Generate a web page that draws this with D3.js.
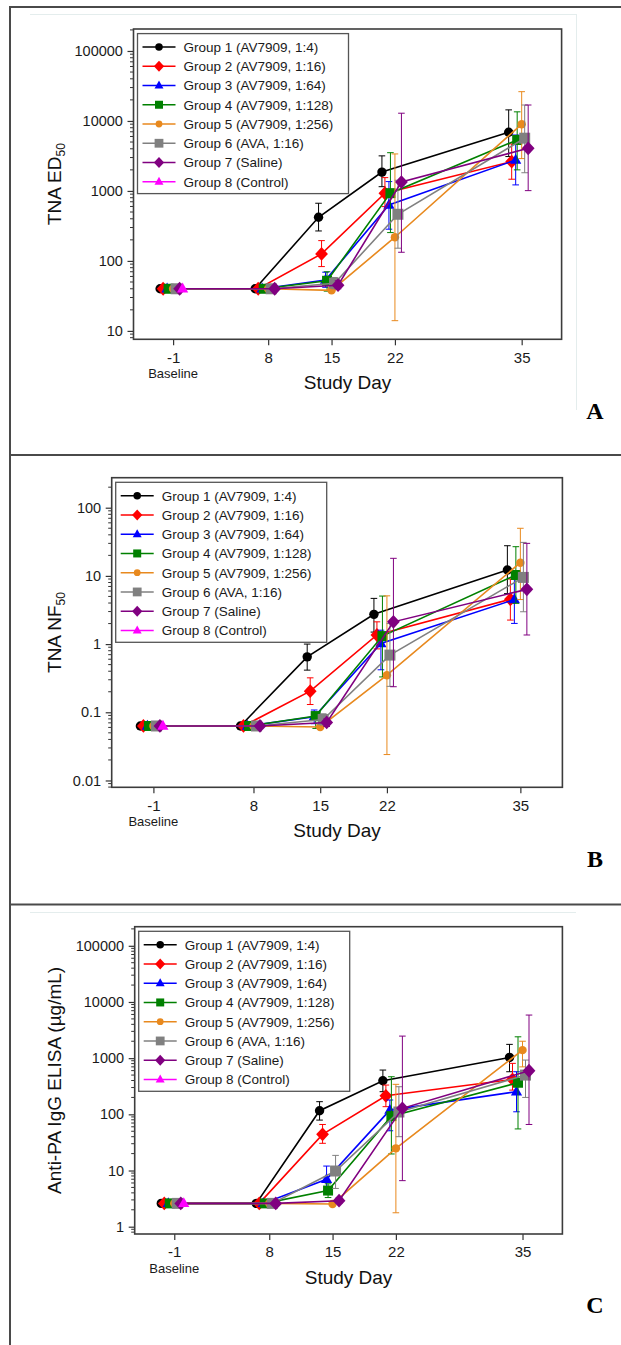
<!DOCTYPE html>
<html>
<head>
<meta charset="utf-8">
<script src="https://cdn.jsdelivr.net/npm/d3@7"></script>
<style>
  html, body { margin: 0; padding: 0; background: #fff; }
  svg { display: block; }
</style>
</head>
<body>
<svg id="chart" width="621" height="1345"></svg>
<script>
// ---------------- DATA ----------------
const days = [-1, 8, 15, 22, 35];
const groupNames = [
  "Group 1 (AV7909, 1:4)",
  "Group 2 (AV7909, 1:16)",
  "Group 3 (AV7909, 1:64)",
  "Group 4 (AV7909, 1:128)",
  "Group 5 (AV7909, 1:256)",
  "Group 6 (AVA, 1:16)",
  "Group 7 (Saline)",
  "Group 8 (Control)"
];

// Panel A: TNA ED50 (per group, per day)
const ed50 = [
  [40, 40, 421, 1860, 6900],
  [40, 40, 126, 927, 2630],
  [40, 40, 53.5, 631, 2770],
  [40, 40, 52, 930, 5350],
  [40, 40, 38, 218, 8980],
  [40, 40, 48, 464, 5670],
  [40, 40, 45, 1340, 4070],
  [40, null, null, null, null]
];
const ed50Lo = [
  [null, null, 268, 1150, 3100],
  [null, null, 83, 597, 1470],
  [null, null, 42, 284, 1220],
  [null, null, 37, 254, 2000],
  [null, null, 36, 14, 2900],
  [null, null, 40, 152, 1820],
  [null, null, 40, 133, 1010],
  [null, null, null, null, null]
];
const ed50Hi = [
  [null, null, 667, 3170, 14400],
  [null, null, 195, 1550, 4700],
  [null, null, 69, 1360, 6300],
  [null, null, 70, 3520, 13500],
  [null, null, 42, 3380, 26200],
  [null, null, 58, 1420, 16900],
  [null, null, 52, 12900, 16900],
  [null, null, null, null, null]
];

// Panel B: TNA NF50
const nf50 = [
  [0.063, 0.063, 0.65, 2.73, 12.2],
  [0.063, 0.063, 0.204, 1.36, 4.53],
  [0.063, 0.063, 0.0857, 1.02, 4.5],
  [0.063, 0.063, 0.088, 1.31, 10.3],
  [0.063, 0.063, 0.061, 0.35, 15.6],
  [0.063, 0.063, 0.0785, 0.69, 9.5],
  [0.063, 0.063, 0.071, 2.12, 6.35],
  [0.063, null, null, null, null]
];
const nf50Lo = [
  [null, null, 0.415, 1.5, 5.5],
  [null, null, 0.13, 0.85, 2.25],
  [null, null, 0.068, 0.42, 2.01],
  [null, null, 0.058, 0.33, 3.96],
  [null, null, 0.058, 0.024, 4.5],
  [null, null, 0.065, 0.24, 2.98],
  [null, null, 0.062, 0.237, 1.36],
  [null, null, null, null, null]
];
const nf50Hi = [
  [null, null, 1.0, 4.68, 27.7],
  [null, null, 0.32, 2.12, 9],
  [null, null, 0.108, 1.6, 10],
  [null, null, 0.1, 5.06, 26.8],
  [null, null, 0.065, 5.1, 49.9],
  [null, null, 0.095, 2.0, 31],
  [null, null, 0.08, 18.1, 30],
  [null, null, null, null, null]
];

// Panel C: Anti-PA IgG ELISA (ug/mL)
const elisa = [
  [2.6, 2.6, 116, 396, 1030],
  [2.6, 2.6, 44, 214, 419],
  [2.6, 2.6, 7.0, 119, 253],
  [2.6, 2.6, 4.4, 93, 365],
  [2.6, 2.6, 2.54, 24.8, 1390],
  [2.6, 2.6, 9.8, 110, 500],
  [2.6, 2.6, 2.9, 128, 597],
  [2.6, null, null, null, null]
];
const elisaLo = [
  [null, null, 79, 253, 573],
  [null, null, 30.5, 137, 270],
  [null, null, 4.5, 51, 111],
  [null, null, 3.3, 19.7, 55],
  [null, null, 2.4, 1.77, 700],
  [null, null, 4.8, 40, 200],
  [null, null, 2.6, 6.6, 66],
  [null, null, null, null, null]
];
const elisaHi = [
  [null, null, 168, 614, 1760],
  [null, null, 66, 332, 808],
  [null, null, 12, 180, 573],
  [null, null, 5.8, 467, 2400],
  [null, null, 2.7, 342, 2000],
  [null, null, 18.6, 310, 925],
  [null, null, 3.3, 2470, 5850],
  [null, null, null, null, null]
];

const ticksA = [10, 100, 1000, 10000, 100000];
const ticksB = [0.01, 0.1, 1, 10, 100];
const ticksC = [1, 10, 100, 1000, 10000, 100000];
const tickLabelsA = ["10", "100", "1000", "10000", "100000"];
const tickLabelsB = ["0.01", "0.1", "1", "10", "100"];
const tickLabelsC = ["1", "10", "100", "1000", "10000", "100000"];

// ---------------- STYLE ----------------
const colors = ["#000000", "#ff0000", "#0000ff", "#008000", "#e8891e", "#808080", "#800080", "#ff00ff"];
const shapes = ["circle", "diamond", "triangle", "square", "circle", "square", "diamond", "triangle"];
const jitter = [-13, -10, -6, -4.5, 0, 3, 6.5, 9.5];
const slots = [0, 1.5, 2.5, 3.5, 5.5];
const FONT = "'Liberation Sans', Arial, sans-serif";

const svg = d3.select("#chart");
svg.append("rect").attr("width", 621).attr("height", 1345).attr("fill", "#fff");

// outer frame
const frame = svg.append("g").attr("stroke", "#4a4a4a").attr("stroke-width", 2).attr("fill", "none");
frame.append("line").attr("x1", 10).attr("x2", 621).attr("y1", 7).attr("y2", 7);
frame.append("line").attr("x1", 10).attr("x2", 621).attr("y1", 455).attr("y2", 455);
frame.append("line").attr("x1", 10).attr("x2", 621).attr("y1", 904.5).attr("y2", 904.5);
frame.append("line").attr("x1", 10).attr("x2", 10).attr("y1", 6).attr("y2", 1345);
// faint image edges
const faint = svg.append("g").attr("stroke", "#e4eded").attr("stroke-width", 1).attr("fill", "none");
faint.append("line").attr("x1", 30).attr("x2", 576).attr("y1", 14.5).attr("y2", 14.5);
faint.append("line").attr("x1", 576.5).attr("x2", 576.5).attr("y1", 14).attr("y2", 410);
faint.append("line").attr("x1", 30).attr("x2", 576).attr("y1", 912.5).attr("y2", 912.5);

function markerPath(shape, k) {
  if (shape === "diamond") { const w = 6.4 * k, h = 6.9 * k; return `M0,${-h}L${w},0L0,${h}L${-w},0Z`; }
  if (shape === "triangle") { const s = 5.6 * k; return `M0,${-6.2 * k}L${s},${3.7 * k}L${-s},${3.7 * k}Z`; }
  if (shape === "square") { const s = 5 * k; return `M${-s},${-s}H${s}V${s}H${-s}Z`; }
  const r = 4.7 * k;
  return `M${r},0A${r},${r} 0 1,1 ${-r},0A${r},${r} 0 1,1 ${r},0Z`;
}
function sizeK(g) {
  if (g === 5) return 1.1;   // AVA square slightly larger
  if (g === 4) return 0.9;   // orange circle slightly smaller
  return 1;
}

const panels = [
  { box: [133.5, 29, 561.6, 339.3], logDom: [0.88, 5.314], vals: ed50, lo: ed50Lo, hi: ed50Hi,
    ticks: ticksA, labels: tickLabelsA, title: ["TNA ED", "50"], letter: "A", letterY: 419 },
  { box: [111.7, 477.7, 562.4, 787.3], logDom: [-2.10, 2.44], vals: nf50, lo: nf50Lo, hi: nf50Hi,
    ticks: ticksB, labels: tickLabelsB, title: ["TNA NF", "50"], letter: "B", letterY: 867 },
  { box: [134.7, 926.7, 562.4, 1234], logDom: [-0.13, 5.34], vals: elisa, lo: elisaLo, hi: elisaHi,
    ticks: ticksC, labels: tickLabelsC, title: ["Anti-PA IgG ELISA (\u00b5g/mL)", null], letter: "C", letterY: 1313 }
];

panels.forEach(p => {
  const [L, T, R, B] = p.box;
  const slotScale = d3.scaleLinear().domain([-0.625, 6.13]).range([L, R]);
  const x = d3.scaleLinear().domain(days).range(slots.map(slotScale));
  const y = d3.scaleLog().domain([Math.pow(10, p.logDom[0]), Math.pow(10, p.logDom[1])]).range([B, T]);
  const g = svg.append("g");

  // x axis
  const xa = g.append("g").attr("transform", `translate(0,${B})`)
    .call(d3.axisBottom(x).tickValues(days).tickSize(6).tickPadding(6.6).tickFormat(d => String(d)));
  xa.select(".domain").remove();
  xa.selectAll("line").attr("stroke", "#333").attr("stroke-width", 1.2);
  xa.selectAll("text").attr("font-family", FONT).attr("font-size", 15).attr("fill", "#1a1a1a");

  // y axis (major)
  const ya = g.append("g").attr("transform", `translate(${L},0)`)
    .call(d3.axisLeft(y).tickValues(p.ticks).tickSize(6).tickPadding(4.6)
      .tickFormat((d, i) => p.labels[i]));
  ya.select(".domain").remove();
  ya.selectAll("line").attr("stroke", "#333").attr("stroke-width", 1.2);
  ya.selectAll("text").attr("font-family", FONT).attr("font-size", 14.5).attr("fill", "#1a1a1a");

  // minor ticks
  const minors = [];
  for (let e = Math.floor(p.logDom[0]); e <= Math.ceil(p.logDom[1]); e++) {
    for (let m = 2; m <= 9; m++) {
      const v = m * Math.pow(10, e);
      const lv = Math.log10(v);
      if (lv > p.logDom[0] && lv < p.logDom[1]) minors.push(v);
    }
  }
  g.append("g").selectAll("line").data(minors).join("line")
    .attr("x1", L - 3.5).attr("x2", L).attr("y1", d => y(d)).attr("y2", d => y(d))
    .attr("stroke", "#333").attr("stroke-width", 1);

  // "Baseline" label
  g.append("text").attr("x", x(-1)).attr("y", B + 38.6).attr("text-anchor", "middle")
    .attr("font-family", FONT).attr("font-size", 13).attr("fill", "#1a1a1a").text("Baseline");
  // x title
  g.append("text").attr("x", (L + R) / 2).attr("y", B + 50).attr("text-anchor", "middle")
    .attr("font-family", FONT).attr("font-size", 19).attr("fill", "#111").text("Study Day");
  // y title
  const yt = g.append("text").attr("transform", `translate(60.5,${(T + B) / 2}) rotate(-90)`)
    .attr("text-anchor", "middle").attr("font-family", FONT).attr("font-size", 19).attr("fill", "#111");
  yt.append("tspan").text(p.title[0]);
  if (p.title[1]) yt.append("tspan").attr("font-size", 12).attr("dy", 4).text(p.title[1]);

  // panel letter
  svg.append("text").attr("x", 595).attr("y", p.letterY).attr("text-anchor", "middle")
    .attr("font-family", "'Liberation Serif', 'Times New Roman', serif").attr("font-weight", "bold")
    .attr("font-size", 24).attr("fill", "#000").text(p.letter);

  // series
  const plot = g.append("g");
  groupNames.forEach((name, gi) => {
    const pts = days.map((d, di) => ({ d, v: p.vals[gi][di], lo: p.lo[gi][di], hi: p.hi[gi][di] }))
      .filter(o => o.v != null);
    const gx = o => x(o.d) + jitter[gi];
    const sg = plot.append("g");
    // error bars
    const eb = sg.append("g").attr("stroke", colors[gi]).attr("stroke-width", 1).attr("fill", "none");
    pts.filter(o => o.lo != null && o.hi != null).forEach(o => {
      const cx = gx(o);
      eb.append("line").attr("x1", cx).attr("x2", cx).attr("y1", y(o.hi)).attr("y2", y(o.lo));
      eb.append("line").attr("x1", cx - 3.3).attr("x2", cx + 3.3).attr("y1", y(o.hi)).attr("y2", y(o.hi));
      eb.append("line").attr("x1", cx - 3.3).attr("x2", cx + 3.3).attr("y1", y(o.lo)).attr("y2", y(o.lo));
    });
    // line
    if (pts.length > 1) {
      sg.append("path").datum(pts)
        .attr("d", d3.line().x(gx).y(o => y(o.v)))
        .attr("fill", "none").attr("stroke", colors[gi]).attr("stroke-width", 1.6);
    }
    // markers
    sg.selectAll("path.mk").data(pts).join("path").attr("class", "mk")
      .attr("transform", o => `translate(${gx(o)},${y(o.v)})`)
      .attr("d", markerPath(shapes[gi], sizeK(gi)))
      .attr("fill", colors[gi]);
  });

  // plot box
  g.append("rect").attr("x", L).attr("y", T).attr("width", R - L).attr("height", B - T)
    .attr("fill", "none").attr("stroke", "#3c3c3c").attr("stroke-width", 1.6);

  // legend
  const lx = L + 4, ly = T + 4.6, lw = 211, lh = 160;
  const lg = g.append("g");
  lg.append("rect").attr("x", lx).attr("y", ly).attr("width", lw).attr("height", lh)
    .attr("fill", "#fff").attr("stroke", "#555").attr("stroke-width", 1.3);
  groupNames.forEach((name, gi) => {
    const ry = ly + 13.4 + gi * 19.25;
    lg.append("line").attr("x1", lx + 5).attr("x2", lx + 38).attr("y1", ry).attr("y2", ry)
      .attr("stroke", colors[gi]).attr("stroke-width", 1.6);
    lg.append("path").attr("transform", `translate(${lx + 21.5},${ry})`)
      .attr("d", markerPath(shapes[gi], 0.8 * sizeK(gi))).attr("fill", colors[gi]);
    lg.append("text").attr("x", lx + 46).attr("y", ry).attr("dy", "0.36em")
      .attr("font-family", FONT).attr("font-size", 13.5).attr("fill", "#1a1a1a").text(name);
  });
});
</script>
</body>
</html>
